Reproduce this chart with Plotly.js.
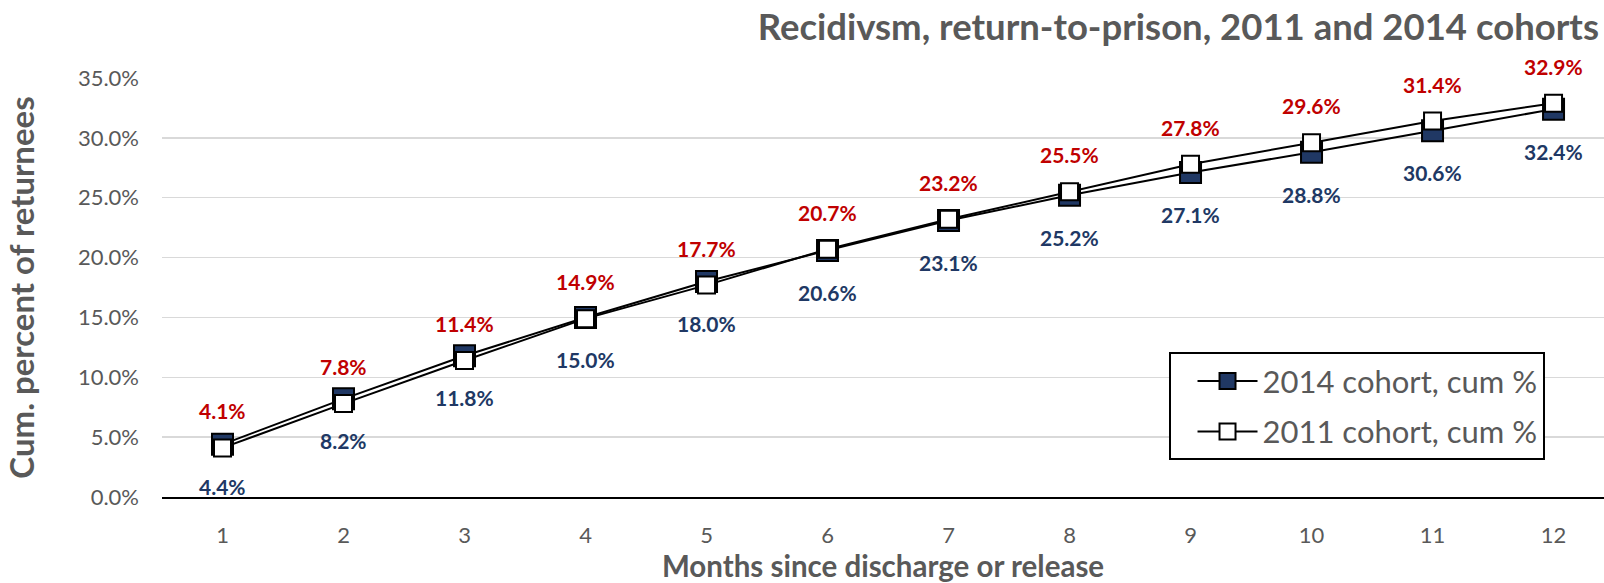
<!DOCTYPE html>
<html>
<head>
<meta charset="utf-8">
<script src="https://cdn.plot.ly/plotly-3.0.1.min.js"></script>
<style>html,body{margin:0;padding:0;background:#fff;overflow:hidden}</style>
</head>
<body>
<div id="chart" style="width:1604px;height:583px"></div>
<script>
const months = [1,2,3,4,5,6,7,8,9,10,11,12];
const cohort2014 = [4.4,8.2,11.8,15.0,18.0,20.6,23.1,25.2,27.1,28.8,30.6,32.4];
const cohort2011 = [4.1,7.8,11.4,14.9,17.7,20.7,23.2,25.5,27.8,29.6,31.4,32.9];
const yTicks = [0,5,10,15,20,25,30,35];
const yTickText = yTicks.map(v => v.toFixed(1) + '%');

const FONT = 'Lato, "Open Sans", sans-serif';
const GRAY = '#595959';
const BLUE = '#203864';
const RED = '#C00000';

const traces = [
  {
    x: months, y: cohort2014, name: '2014 cohort, cum %', type: 'scatter', mode: 'lines+markers',
    legendgroup: 'a',
    line: {color: '#000', width: 2},
    marker: {symbol: 'square', size: 21, color: BLUE, line: {color: '#000', width: 2}},
    hoverinfo: 'skip'
  },
  {
    x: months, y: cohort2011, name: '2011 cohort, cum %', type: 'scatter', mode: 'lines+markers',
    legendgroup: 'b',
    line: {color: '#000', width: 2},
    marker: {symbol: 'square', size: 17, color: '#fff', line: {color: '#000', width: 2}},
    hoverinfo: 'skip'
  }
];

const annotations = [];
months.forEach((m, i) => {
  annotations.push({x: m, y: cohort2011[i], xref: 'x', yref: 'y', text: cohort2011[i].toFixed(1) + '%',
    showarrow: false, yshift: 37, font: {family: FONT, size: 21, color: RED, weight: 'bold'}});
  annotations.push({x: m, y: cohort2014[i], xref: 'x', yref: 'y', text: cohort2014[i].toFixed(1) + '%',
    showarrow: false, yshift: -42, font: {family: FONT, size: 21, color: BLUE, weight: 'bold'}});
});

const layout = {
  width: 1604, height: 583,
  margin: {l: 162, r: 0, t: 78, b: 86},
  paper_bgcolor: '#fff', plot_bgcolor: '#fff',
  font: {family: FONT, color: GRAY},
  title: {
    text: 'Recidivsm, return-to-prison, 2011 and 2014 cohorts',
    font: {family: FONT, size: 36.5, color: GRAY, weight: 'bold'},
    x: 0.9965, xanchor: 'right', xref: 'paper', yref: 'container', y: 0.953, yanchor: 'middle'
  },
  xaxis: {
    range: [0.5, 12.417], tickvals: months, ticktext: months.map(String),
    showgrid: false, zeroline: false, showline: true, linecolor: '#000', linewidth: 2,
    ticks: '', ticklabelstandoff: 18,
    tickfont: {family: FONT, size: 22, color: GRAY},
    title: {text: 'Months since discharge or release', standoff: 9,
      font: {family: FONT, size: 29.5, color: GRAY, weight: 'bold'}}
  },
  yaxis: {
    range: [0, 35], tickvals: yTicks, ticktext: yTickText,
    showgrid: true, gridcolor: '#d9d9d9', gridwidth: 1.5, zeroline: false, showline: false,
    ticks: '', ticklabelstandoff: 22,
    tickfont: {family: FONT, size: 22, color: GRAY},
    title: {text: 'Cum. percent of returnees', standoff: 33,
      font: {family: FONT, size: 33, color: GRAY, weight: 'bold'}}
  },
  legend: {
    x: 0.698, y: 0.345, xanchor: 'left', yanchor: 'top',
    bgcolor: '#fff', bordercolor: '#000', borderwidth: 2,
    font: {family: FONT, size: 31, color: GRAY},
    traceorder: 'grouped', tracegroupgap: 7, indentation: 22, itemwidth: 60
  },
  showlegend: true,
  annotations: annotations
};

Plotly.newPlot('chart', traces, layout, {displayModeBar: false, staticPlot: true});
</script>
</body>
</html>
